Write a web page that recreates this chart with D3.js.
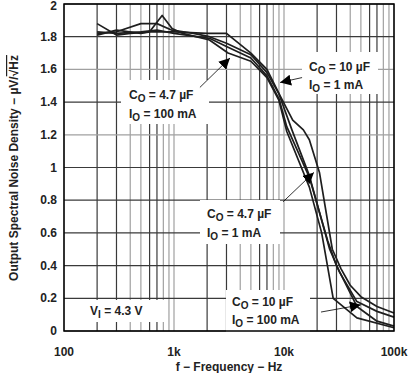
<!DOCTYPE html>
<html>
<head>
<meta charset="utf-8">
<script src="https://cdn.jsdelivr.net/npm/d3@7"></script>
<style>
  body { margin: 0; background: #fff; }
  svg { display: block; font-family: "Liberation Sans", Arial, sans-serif; }
</style>
</head>
<body>
<svg id="chart" width="408" height="373"></svg>
<script>
// frequency (Hz) / noise (uV/rtHz) pairs
var c10u1m = [[200,1.88],[300,1.81],[400,1.82],[600,1.83],[1000,1.83],[2000,1.82],[3000,1.82],[5000,1.70],[7000,1.60],[9200,1.44],[12000,1.29],[15000,1.23],[17000,1.17],[21000,0.97],[27500,0.50],[33000,0.38],[40000,0.28],[50000,0.21],[70000,0.15],[100000,0.11]];
var c10u100m = [[200,1.82],[300,1.83],[500,1.88],[700,1.88],[960,1.84],[1500,1.82],[2100,1.80],[3000,1.76],[5000,1.69],[7000,1.58],[9000,1.45],[11800,1.23],[17000,0.95],[26000,0.50],[32000,0.36],[46000,0.18],[70000,0.12],[100000,0.085]];
var c47u1m = [[200,1.83],[300,1.82],[500,1.83],[700,1.84],[1000,1.82],[2100,1.79],[3000,1.74],[5000,1.67],[7000,1.56],[9000,1.42],[10600,1.25],[17000,0.94],[25000,0.55],[30000,0.40],[46000,0.15],[70000,0.06],[100000,0.03]];
var c47u100m = [[200,1.81],[300,1.84],[500,1.82],[600,1.83],[780,1.93],[960,1.85],[1200,1.82],[2100,1.78],[3100,1.70],[5000,1.65],[7000,1.55],[9000,1.41],[10600,1.22],[17000,0.88],[22000,0.60],[28000,0.20],[46000,0.08],[100000,0.02]];

var xTickValues = [100, 1000, 10000, 100000];
var xTickLabels = ["100", "1k", "10k", "100k"];
var yTickValues = [0, 0.2, 0.4, 0.6, 0.8, 1, 1.2, 1.4, 1.6, 1.8, 2];
var yTickLabels = ["0", "0.2", "0.4", "0.6", "0.8", "1", "1.2", "1.4", "1.6", "1.8", "2"];

var svg = d3.select("#chart");
var x = d3.scaleLog().domain([100, 100000]).range([64, 394]);
var y = d3.scaleLinear().domain([0, 2]).range([331, 4]);

// grid - mix of dark and light lines like the datasheet
var g = svg.append("g");
x.ticks().forEach(function(f) {
  var m = Math.round(f / Math.pow(10, Math.floor(Math.log10(f) + 1e-9)));
  var dark = (m == 2 || m == 3 || m == 6 || m == 7);
  g.append("line")
    .attr("x1", x(f)).attr("x2", x(f))
    .attr("y1", y(0)).attr("y2", y(2))
    .attr("stroke", dark ? "#3a3a3a" : "#a0a0a0")
    .attr("stroke-width", 1.2);
});
yTickValues.forEach(function(v, i) {
  g.append("line")
    .attr("x1", x(100)).attr("x2", x(100000))
    .attr("y1", y(v)).attr("y2", y(v))
    .attr("stroke", (i == 6 || i == 8) ? "#a0a0a0" : "#3a3a3a")
    .attr("stroke-width", 1.2);
});

// white boxes behind annotations
function box(x0, y0, w, h) {
  svg.append("rect").attr("x", x0).attr("y", y0).attr("width", w).attr("height", h).attr("fill", "#fff");
}
box(121, 80, 88, 44);
box(302, 52, 76, 42);
box(200, 200, 80, 44);
box(226, 290, 84, 42);
box(84, 300, 80, 22);

// curves
var line = d3.line().x(function(d) { return x(d[0]); }).y(function(d) { return y(d[1]); });
[c10u1m, c10u100m, c47u1m, c47u100m].forEach(function(s) {
  svg.append("path").datum(s)
    .attr("d", line)
    .attr("fill", "none")
    .attr("stroke", "#1e1e1e")
    .attr("stroke-width", 1.7)
    .attr("stroke-linejoin", "round");
});

// frame
svg.append("rect")
  .attr("x", x(100)).attr("y", y(2))
  .attr("width", x(100000) - x(100)).attr("height", y(0) - y(2))
  .attr("fill", "none").attr("stroke", "#000").attr("stroke-width", 1.5);

// arrows
svg.append("defs").append("marker")
  .attr("id", "head").attr("viewBox", "0 0 10 10")
  .attr("refX", 10).attr("refY", 5)
  .attr("markerWidth", 11).attr("markerHeight", 11)
  .attr("markerUnits", "userSpaceOnUse")
  .attr("orient", "auto")
  .append("path").attr("d", "M0,0 L10,5 L0,10 Z").attr("fill", "#000");

function arrow(f0, v0, f1, v1) {
  svg.append("line")
    .attr("x1", x(f0)).attr("y1", y(v0))
    .attr("x2", x(f1)).attr("y2", y(v1))
    .attr("stroke", "#000").attr("stroke-width", 0.8)
    .attr("marker-end", "url(#head)");
}
arrow(1720, 1.49, 3230, 1.67);
arrow(14600, 1.55, 9200, 1.52);
arrow(9800, 0.79, 18700, 0.97);
arrow(21700, 0.116, 50000, 0.16);

// labels with subscripts
function sub(x0, y0, main, s, rest) {
  var t = svg.append("text").attr("x", x0).attr("y", y0)
    .attr("font-size", 12).attr("font-weight", "bold").attr("fill", "#222");
  t.append("tspan").text(main);
  t.append("tspan").attr("dy", 3).attr("font-size", 10).text(s);
  t.append("tspan").attr("dy", -3).text(rest);
}
sub(129, 99, "C", "O", " = 4.7 µF");
sub(129, 118, "I", "O", " = 100 mA");
sub(309, 71, "C", "O", " = 10 µF");
sub(309, 89, "I", "O", " = 1 mA");
sub(207, 218, "C", "O", " = 4.7 µF");
sub(207, 237, "I", "O", " = 1 mA");
sub(232, 306, "C", "O", " = 10 µF");
sub(232, 324, "I", "O", " = 100 mA");
sub(90, 315, "V", "I", " = 4.3 V");

// tick labels
xTickValues.forEach(function(f, i) {
  svg.append("text").attr("x", x(f)).attr("y", 356)
    .attr("text-anchor", "middle").attr("font-size", 12).attr("font-weight", "bold")
    .attr("fill", "#222").text(xTickLabels[i]);
});
yTickValues.forEach(function(v, i) {
  svg.append("text").attr("x", 57).attr("y", Math.max(y(v) + 4, 10))
    .attr("text-anchor", "end").attr("font-size", 12).attr("font-weight", "bold")
    .attr("fill", "#222").text(yTickLabels[i]);
});

// axis titles
svg.append("text").attr("x", 229).attr("y", 371)
  .attr("text-anchor", "middle").attr("font-size", 12).attr("font-weight", "bold")
  .attr("fill", "#222").text("f − Frequency − Hz");

var yt = svg.append("text")
  .attr("transform", "translate(18,168) rotate(-90)")
  .attr("text-anchor", "middle").attr("font-size", 12).attr("font-weight", "bold")
  .attr("fill", "#222");
yt.append("tspan").text("Output Spectral Noise Density − µV/");
yt.append("tspan").attr("text-decoration", "overline").text("√Hz");
</script>
</body>
</html>
